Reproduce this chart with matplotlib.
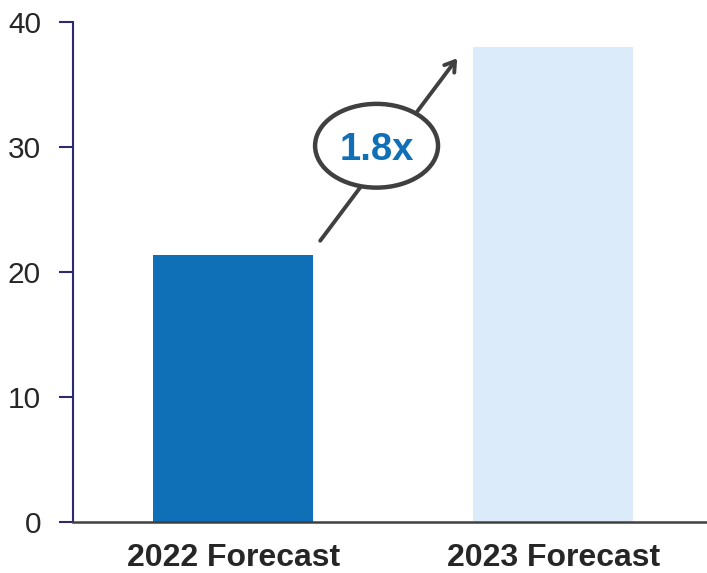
import matplotlib.pyplot as plt
from matplotlib.patches import Ellipse

# ── Data ────────────────────────────────────────────────────────────────────
categories = ["2022 Forecast", "2023 Forecast"]
values = [21.4, 38.0]
bar_colors = ["#0F70B8", "#DCEBFA"]
y_ticks = [0, 10, 20, 30, 40]
growth_label = "1.8x"

# ── Style ───────────────────────────────────────────────────────────────────
TEXT_CLR = "#262626"
NAVY = "#2E2A6B"
DARK = "#404040"
BLUE_TXT = "#0F70B8"

plt.rcParams["font.family"] = ["Liberation Sans", "DejaVu Sans"]

fig = plt.figure(figsize=(7.07, 5.73), dpi=100)
ax = fig.add_axes([73 / 707, 51 / 573, 634 / 707, 500 / 573])

x = list(range(len(categories)))
ax.bar(x, values, width=0.5, color=bar_colors, zorder=2)

ax.set_xlim(-0.5, 1.48)
ax.set_ylim(0, 40)
ax.set_yticks(y_ticks)
ax.set_xticks(x)
ax.set_xticklabels(categories, fontsize=23, fontweight="bold", color=TEXT_CLR)
ax.tick_params(axis="x", length=0, pad=15)
ax.tick_params(axis="y", length=10, width=1.5, color=NAVY, pad=13,
               labelsize=21.5, labelcolor=TEXT_CLR)

for side in ("top", "right"):
    ax.spines[side].set_visible(False)
ax.spines["left"].set_color(NAVY)
ax.spines["left"].set_linewidth(1.5)
ax.spines["bottom"].set_color(DARK)
ax.spines["bottom"].set_linewidth(1.8)
ax.spines["bottom"].set_zorder(3)

# ── Growth arrow with ellipse callout ───────────────────────────────────────
ax.annotate("", xy=(0.70, 37.1), xytext=(0.272, 22.5),
            arrowprops=dict(arrowstyle="->,head_length=0.7,head_width=0.45",
                            color=DARK, lw=2.8, shrinkA=0, shrinkB=0),
            zorder=4)
ax.add_patch(Ellipse((0.448, 30.1), width=0.384, height=6.7,
                     facecolor="white", edgecolor=DARK, lw=3.2, zorder=5))
ax.text(0.448, 30.1, growth_label, ha="center", va="center_baseline",
        fontsize=27.5, fontweight="bold", color=BLUE_TXT, zorder=6)

fig.savefig("out.png", dpi=100)
